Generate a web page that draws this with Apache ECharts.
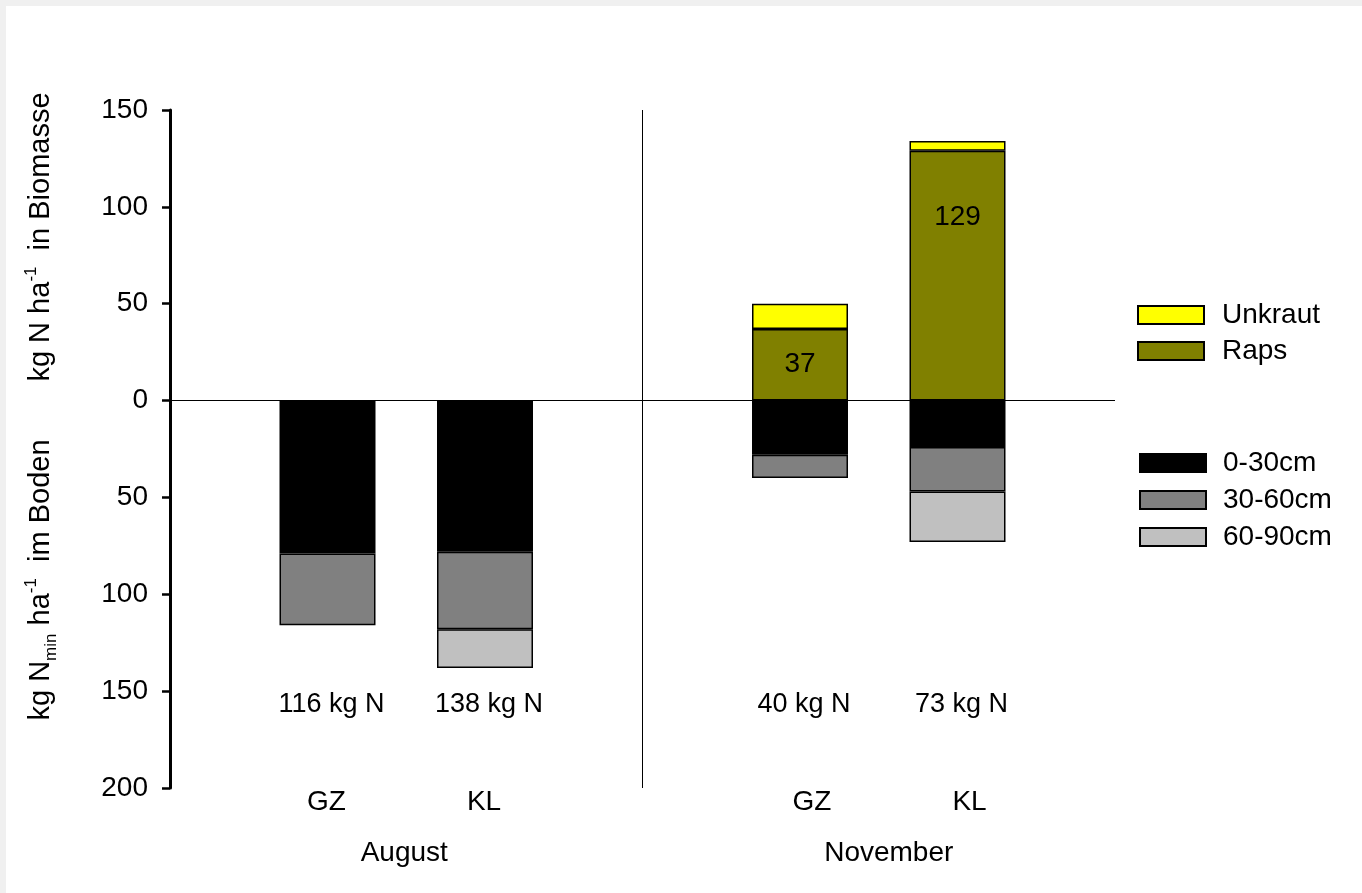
<!DOCTYPE html>
<html>
<head>
<meta charset="utf-8">
<script src="https://cdn.jsdelivr.net/npm/echarts@6/dist/echarts.min.js"></script>
<style>
  html, body { margin: 0; padding: 0; background: #f0f0f0; }
  #chart { position: absolute; left: 6px; top: 6px; width: 1356px; height: 887px; background: #fff; }
</style>
</head>
<body>
<div id="chart"></div>
<script>
// Sampling dates and sites (August GZ, August KL, November GZ, November KL)
const months = ['August', 'November'];
const sites = ['GZ', 'KL', 'GZ', 'KL'];

// Nitrogen in above-ground biomass, kg N/ha
const raps = [null, null, 37, 129];
const unkraut = [null, null, 13, 5];

// Mineral nitrogen (Nmin) in the soil profile, kg N/ha
const soil0to30 = [79, 78, 28, 24];
const soil30to60 = [37, 40, 12, 23];
const soil60to90 = [null, 20, null, 26];

// Y axis range: biomass upwards, soil downwards
const yMin = -200, yMax = 150, yStep = 50;

// Seven slots on the x axis: the four sites plus spacers and the month divider
const slotNames = ['s0', 'August GZ', 'August KL', 'divider', 'November GZ', 'November KL', 's6'];
const siteSlot = [1, 2, 4, 5];

function toSlots(arr, sign) {
  const out = slotNames.map(() => null);
  arr.forEach((v, i) => { if (v != null) out[siteSlot[i]] = v * sign; });
  return out;
}

const soilTotals = sites.map((_, i) =>
  (soil0to30[i] || 0) + (soil30to60[i] || 0) + (soil60to90[i] || 0));

const FONT = "'Liberation Sans', Arial, sans-serif";
const FS = 28;
const FS_TITLE = 29;
const FS_TOTAL = 27;
const border = { borderColor: '#000', borderWidth: 1.5 };

function slotLabel(list) {
  return function (value, idx) {
    const k = siteSlot.indexOf(idx);
    if (k < 0) return '';
    return k >= 2 ? '{n|' + list[k] + '}' : '{a|' + list[k] + '}';
  };
}

// Raps values carry their number inside the bar
const rapsData = toSlots(raps, 1).map((v) => {
  if (v == null) return null;
  return {
    value: v,
    label: v > 100
      ? { show: true, position: 'insideTop', distance: 53 }
      : { show: true, position: 'inside' }
  };
});

const chart = echarts.init(document.getElementById('chart'), null, { renderer: 'canvas' });

chart.setOption({
  animation: false,
  textStyle: { fontFamily: FONT, color: '#000' },
  grid: { left: 164, top: 104, width: 945, height: 678, containLabel: false },
  xAxis: [
    {
      type: 'category', data: slotNames, boundaryGap: false, position: 'bottom',
      axisLine: { show: false }, axisTick: { show: false }, splitLine: { show: false },
      axisLabel: {
        interval: 0, margin: 0, fontSize: FS, color: '#000', fontFamily: FONT, hideOverlap: false,
        formatter: slotLabel(sites),
        rich: {
          a: { fontSize: FS, fontFamily: FONT, padding: [0, 0, 0, -2] },
          n: { fontSize: FS, fontFamily: FONT, padding: [0, 0, 0, 24] }
        }
      }
    },
    {
      type: 'value', min: 0, max: 6, interval: 1.5, offset: 51, position: 'bottom',
      axisLine: { show: false }, axisTick: { show: false }, splitLine: { show: false },
      axisLabel: {
        margin: 0, fontSize: FS, color: '#000', fontFamily: FONT, showMinLabel: true, showMaxLabel: true,
        formatter: function (v) {
          if (v === 1.5) return '{a|' + months[0] + '}';
          if (v === 4.5) return '{n|' + months[1] + '}';
          return '';
        },
        rich: {
          a: { fontSize: FS, fontFamily: FONT, padding: [0, 0, 0, -4] },
          n: { fontSize: FS, fontFamily: FONT, padding: [0, 0, 0, 20] }
        }
      }
    },
    {
      type: 'category', data: slotNames, boundaryGap: false, offset: -97, position: 'bottom',
      axisLine: { show: false }, axisTick: { show: false }, splitLine: { show: false },
      axisLabel: {
        interval: 0, margin: 0, fontSize: FS_TOTAL, color: '#000', fontFamily: FONT, hideOverlap: false,
        formatter: function (value, idx) {
          const k = siteSlot.indexOf(idx);
          return k < 0 ? '' : '{t|' + soilTotals[k] + ' kg N}';
        },
        rich: { t: { fontSize: FS_TOTAL, fontFamily: FONT, padding: [0, 0, 0, 8] } }
      }
    }
  ],
  yAxis: {
    type: 'value', min: yMin, max: yMax, interval: yStep,
    axisLine: { show: true, lineStyle: { color: '#000', width: 3 } },
    axisTick: { show: true, length: 8, lineStyle: { color: '#000', width: 2.5 } },
    splitLine: { show: false },
    axisLabel: {
      margin: 22, fontSize: FS, color: '#000', fontFamily: FONT,
      formatter: v => String(Math.abs(v))
    }
  },
  legend: [
    {
      data: ['Unkraut', 'Raps'], orient: 'vertical', left: 1131, top: 295, padding: 0,
      itemWidth: 66, itemHeight: 18, itemGap: 8, icon: 'rect',
      textStyle: { fontSize: FS, fontFamily: FONT, color: '#000', padding: [0, 0, 0, 13] }
    },
    {
      data: ['0-30cm', '30-60cm', '60-90cm'], orient: 'vertical', left: 1133, top: 443, padding: 0,
      itemWidth: 66, itemHeight: 18, itemGap: 9, icon: 'rect',
      textStyle: { fontSize: FS, fontFamily: FONT, color: '#000', padding: [0, 0, 0, 12] }
    }
  ],
  series: [
    {
      name: 'Raps', type: 'bar', stack: 'n', barWidth: 96, xAxisIndex: 0,
      itemStyle: Object.assign({ color: '#808000' }, border),
      label: { color: '#000', fontSize: FS, fontFamily: FONT, formatter: p => p.value },
      data: rapsData
    },
    {
      name: 'Unkraut', type: 'bar', stack: 'n', barWidth: 96, xAxisIndex: 0,
      itemStyle: Object.assign({ color: '#ffff00' }, border),
      data: toSlots(unkraut, 1)
    },
    {
      name: '0-30cm', type: 'bar', stack: 'n', barWidth: 96, xAxisIndex: 0,
      itemStyle: Object.assign({ color: '#000000' }, border),
      data: toSlots(soil0to30, -1),
      markLine: {
        silent: true, symbol: 'none', label: { show: false }, z: 5,
        lineStyle: { color: '#000', width: 1, type: 'solid' },
        data: [{ yAxis: 0 }, { xAxis: 'divider' }]
      }
    },
    {
      name: '30-60cm', type: 'bar', stack: 'n', barWidth: 96, xAxisIndex: 0,
      itemStyle: Object.assign({ color: '#808080' }, border),
      data: toSlots(soil30to60, -1)
    },
    {
      name: '60-90cm', type: 'bar', stack: 'n', barWidth: 96, xAxisIndex: 0,
      itemStyle: Object.assign({ color: '#c0c0c0' }, border),
      data: toSlots(soil60to90, -1)
    }
  ],
  graphic: [
    {
      type: 'text', x: 35, y: 231, rotation: Math.PI / 2,
      style: {
        text: '{a|kg N ha}{s|-1}{a|  in Biomasse}',
        align: 'center', verticalAlign: 'middle', fill: '#000',
        rich: {
          a: { fontSize: FS_TITLE, fontFamily: FONT, lineHeight: 37, fill: '#000' },
          s: { fontSize: 17, fontFamily: FONT, lineHeight: 17, verticalAlign: 'top', fill: '#000' }
        }
      }
    },
    {
      type: 'text', x: 35, y: 574, rotation: Math.PI / 2,
      style: {
        text: '{a|kg N}{b|min}{a| ha}{s|-1}{a|  im Boden}',
        align: 'center', verticalAlign: 'middle', fill: '#000',
        rich: {
          a: { fontSize: FS_TITLE, fontFamily: FONT, lineHeight: 37, fill: '#000' },
          b: { fontSize: 17, fontFamily: FONT, lineHeight: 17, verticalAlign: 'bottom', fill: '#000' },
          s: { fontSize: 17, fontFamily: FONT, lineHeight: 17, verticalAlign: 'top', fill: '#000' }
        }
      }
    }
  ]
});
</script>
</body>
</html>
